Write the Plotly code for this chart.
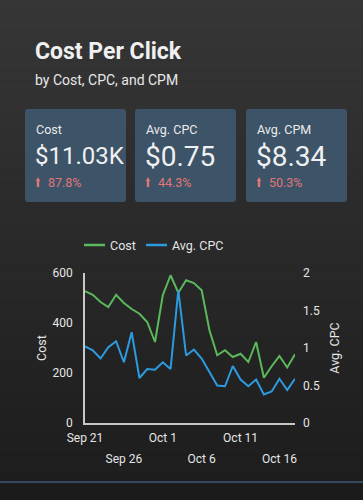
import plotly.graph_objects as go
import pandas as pd

# ---- data ----
dates = pd.date_range("2023-09-21", "2023-10-18", freq="D")
cost = [527, 513, 484, 464, 513, 480, 456, 437, 404, 324, 511, 591, 521, 571,
        560, 531, 371, 271, 291, 264, 277, 244, 324, 181, 227, 268, 222, 275]
avg_cpc = [1.02, 0.97, 0.86, 1.01, 1.09, 0.81, 1.21, 0.60, 0.72, 0.71, 0.81, 0.72,
           1.77, 0.90, 0.98, 0.86, 0.68, 0.50, 0.49, 0.76, 0.58, 0.49, 0.58, 0.38,
           0.42, 0.59, 0.44, 0.59]
series_names = ["Cost", "Avg. CPC"]
kpi_labels = ["Cost", "Avg. CPC", "Avg. CPM"]
kpi_values = ["$11.03K", "$0.75", "$8.34"]
kpi_deltas = ["87.8%", "44.3%", "50.3%"]
cost_ticks = [0, 200, 400, 600]
cpc_ticks = [0, 0.5, 1, 1.5, 2]
x_ticks_row1 = pd.to_datetime(["2023-09-21", "2023-10-01", "2023-10-11"])
x_ticks_row2 = pd.to_datetime(["2023-09-26", "2023-10-06", "2023-10-16"])

W, H = 363, 500
L, R, T, B = 85, 295, 273, 423
FONT = "Roboto, sans-serif"
GREEN = "#5cb85c"
BLUE = "#2d9be0"
CARD = "#3c5368"
RED = "#e07676"


def px(x):
    return (x - L) / (R - L)


def py(y):
    return (B - y) / (B - T)


def fmt(d):
    return d.strftime("%b ") + str(d.day)


fig = go.Figure()
fig.add_trace(go.Scatter(x=dates, y=cost, name=series_names[0], mode="lines",
                         line=dict(color=GREEN, width=2), showlegend=False))
fig.add_trace(go.Scatter(x=dates, y=avg_cpc, name=series_names[1], mode="lines",
                         line=dict(color=BLUE, width=2), xaxis="x2", yaxis="y2",
                         showlegend=False))

shapes = []
# background gradient
n = 48
top_c, bot_c = (54, 54, 54), (29, 29, 29)
for i in range(n):
    y0 = 482 * i / n
    y1 = 482 * (i + 1) / n
    t = i / (n - 1)
    c = tuple(int(round(top_c[k] + (bot_c[k] - top_c[k]) * t)) for k in range(3))
    shapes.append(dict(type="rect", xref="paper", yref="paper", layer="below",
                       x0=px(0), x1=px(W), y0=py(y1 + 0.5), y1=py(y0),
                       fillcolor="rgb(%d,%d,%d)" % c, line=dict(width=0)))
# bottom separator line
shapes.append(dict(type="rect", xref="paper", yref="paper", layer="below",
                   x0=px(0), x1=px(W), y0=py(483), y1=py(481),
                   fillcolor="#34495e", line=dict(width=0)))

annotations = []
cards_x = [25, 135, 246]
cw = 101
value_sizes = [24, 28, 28]
for i, cx in enumerate(cards_x):
    x0, x1, y0, y1, r = cx, cx + cw, 109, 202, 3
    path = ("M {a},{b} L {c},{b} Q {d},{b} {d},{e} L {d},{f} Q {d},{g} {c},{g} "
            "L {a},{g} Q {h},{g} {h},{f} L {h},{e} Q {h},{b} {a},{b} Z").format(
        a=px(x0 + r), b=py(y0), c=px(x1 - r), d=px(x1), e=py(y0 + r),
        f=py(y1 - r), g=py(y1), h=px(x0))
    shapes.append(dict(type="path", xref="paper", yref="paper", layer="below",
                       path=path, fillcolor=CARD, line=dict(width=0)))
    tx = cx + 9
    annotations.append(dict(text=kpi_labels[i], x=px(tx), y=py(129), xref="paper",
                            yref="paper", xanchor="left", yanchor="middle",
                            showarrow=False, font=dict(family=FONT, size=12.5, color="#ececec")))
    annotations.append(dict(text=kpi_values[i], x=px(tx - 1), y=py(156), xref="paper",
                            yref="paper", xanchor="left", yanchor="middle",
                            showarrow=False, font=dict(family=FONT, size=value_sizes[i], color="#f0f0f0")))
    annotations.append(dict(text=kpi_deltas[i], x=px(tx + 12), y=py(182), xref="paper",
                            yref="paper", xanchor="left", yanchor="middle",
                            showarrow=False, font=dict(family=FONT, size=12.5, color=RED)))
    # small up-arrow icon
    ax = tx + 2
    arrow = ("M {a},{b} L {c},{d} L {e},{d} L {e},{f} L {g},{f} L {g},{d} L {h},{d} Z").format(
        a=px(ax + 2), b=py(177), c=px(ax + 4.2), d=py(181), e=px(ax + 3.2),
        f=py(187), g=px(ax + 0.8), h=px(ax - 0.2))
    shapes.append(dict(type="path", xref="paper", yref="paper", path=arrow,
                       fillcolor=RED, line=dict(width=0)))

annotations.append(dict(text="<b>Cost Per Click</b>", x=px(33), y=py(51), xref="paper",
                        yref="paper", xanchor="left", yanchor="middle", showarrow=False,
                        font=dict(family=FONT, size=23, color="#f0f0f0")))
annotations.append(dict(text="by Cost, CPC, and CPM", x=px(33), y=py(80), xref="paper",
                        yref="paper", xanchor="left", yanchor="middle", showarrow=False,
                        font=dict(family=FONT, size=14, color="#e8e8e8")))

# manual legend
legend_items = [(84, 105, 108, GREEN), (146, 167, 170, BLUE)]
for (lx0, lx1, tx, col), name in zip(legend_items, series_names):
    shapes.append(dict(type="line", xref="paper", yref="paper", x0=px(lx0), x1=px(lx1),
                       y0=py(245), y1=py(245), line=dict(color=col, width=2.5)))
    annotations.append(dict(text=name, x=px(tx), y=py(245), xref="paper", yref="paper",
                            xanchor="left", yanchor="middle", showarrow=False,
                            font=dict(family=FONT, size=12.5, color="#e6e6e6")))

xrange = [dates[0], dates[-1]]
fig.update_layout(
    width=W, height=H,
    margin=dict(l=L, r=W - R, t=T, b=H - B, pad=0),
    paper_bgcolor="#1b1b1b", plot_bgcolor="rgba(0,0,0,0)",
    font=dict(family=FONT, size=12, color="#e6e6e6"),
    showlegend=False,
    xaxis=dict(range=xrange, tickmode="array", tickvals=list(x_ticks_row1),
               ticktext=[fmt(d) for d in x_ticks_row1], showgrid=False, zeroline=False,
               showline=True, linecolor="#c8c8c8", linewidth=1.5, ticks="",
               tickfont=dict(size=12), ticklabelstandoff=3),
    xaxis2=dict(range=xrange, tickmode="array", tickvals=list(x_ticks_row2),
                ticktext=[fmt(d) for d in x_ticks_row2], overlaying="x", side="bottom",
                anchor="y", showgrid=False, zeroline=False, showline=False, ticks="",
                tickfont=dict(size=12), ticklabelstandoff=27),
    yaxis=dict(range=[0, 600], tickvals=cost_ticks, showgrid=False, zeroline=False,
               showline=True, linecolor="#c8c8c8", linewidth=1.5, ticks="",
               title=dict(text="Cost", font=dict(size=12.5), standoff=3),
               tickfont=dict(size=12), ticklabelstandoff=8),
    yaxis2=dict(range=[0, 2], tickvals=cpc_ticks, overlaying="y", side="right",
                anchor="x", showgrid=False, zeroline=False, showline=False, ticks="",
                title=dict(text="Avg. CPC", font=dict(size=12.5), standoff=11),
                tickfont=dict(size=12), ticklabelstandoff=7),
    shapes=shapes, annotations=annotations,
)

fig.write_html("out.html", config={"displayModeBar": False},
               post_script="document.body.style.margin='0';document.body.style.overflow='hidden';")
